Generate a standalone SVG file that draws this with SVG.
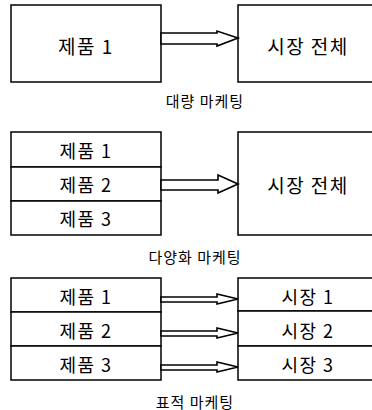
<svg xmlns="http://www.w3.org/2000/svg" width="372" height="410" viewBox="0 0 372 410">
<style>
.box{fill:#fff;stroke:#000;stroke-width:1.5}
.t{font-family:"Noto Sans CJK KR","Noto Sans",sans-serif;fill:#000;text-anchor:middle;dominant-baseline:central}
.big{font-size:19px;letter-spacing:1.5px}
.mid{font-size:18px;letter-spacing:1.5px}
.cap{font-size:15px;letter-spacing:1px}
.arr{fill:#fff;stroke:#000;stroke-width:1.6;stroke-linejoin:miter}
</style>
<rect width="372" height="410" fill="#fff"/>
<g id="mass-product"><rect class="box" x="11" y="5" width="150" height="77"/><text class="t big" x="86" y="45">제품 1</text></g>
<g id="mass-market"><rect class="box" x="238" y="5" width="150" height="77"/><text class="t big" x="308" y="45">시장 전체</text></g>
<g id="mass-label"><text class="t cap" x="205" y="100">대량 마케팅</text></g>

<g id="div-product1"><rect class="box" x="11" y="132" width="150" height="35"/><text class="t mid" x="86" y="150">제품 1</text></g>
<g id="div-product2"><rect class="box" x="11" y="167" width="150" height="34"/><text class="t mid" x="86" y="184">제품 2</text></g>
<g id="div-product3"><rect class="box" x="11" y="201" width="150" height="34"/><text class="t mid" x="86" y="218">제품 3</text></g>
<g id="div-market"><rect class="box" x="238" y="132" width="150" height="103"/><text class="t big" x="308" y="184">시장 전체</text></g>
<g id="div-label"><text class="t cap" x="195" y="256">다양화 마케팅</text></g>

<g id="tgt-product1"><rect class="box" x="11" y="278" width="150" height="34"/><text class="t mid" x="86" y="296">제품 1</text></g>
<g id="tgt-product2"><rect class="box" x="11" y="312" width="150" height="34"/><text class="t mid" x="86" y="330">제품 2</text></g>
<g id="tgt-product3"><rect class="box" x="11" y="346" width="150" height="34"/><text class="t mid" x="86" y="364">제품 3</text></g>
<g id="tgt-market1"><rect class="box" x="238" y="278" width="150" height="33"/><text class="t mid" x="308" y="296">시장 1</text></g>
<g id="tgt-market2"><rect class="box" x="238" y="311" width="150" height="35"/><text class="t mid" x="308" y="330">시장 2</text></g>
<g id="tgt-market3"><rect class="box" x="238" y="346" width="150" height="34"/><text class="t mid" x="308" y="364">시장 3</text></g>
<g id="tgt-label"><text class="t cap" x="195" y="401">표적 마케팅</text></g>

<g id="connectors">
<polygon class="arr" points="161,33 217,33 217,31 238,38 217,46 217,44 161,44"/>
<polygon class="arr" points="161,180 218,180 218,175 238,184 218,193 218,190 161,190"/>
<polygon class="arr" points="161,297 217,297 217,294 238,299 217,304 217,302 161,302"/>
<polygon class="arr" points="161,331 217,331 217,328 238,333 217,338 217,336 161,336"/>
<polygon class="arr" points="161,365 217,365 217,362 238,367 217,372 217,370 161,370"/>
</g>
</svg>
